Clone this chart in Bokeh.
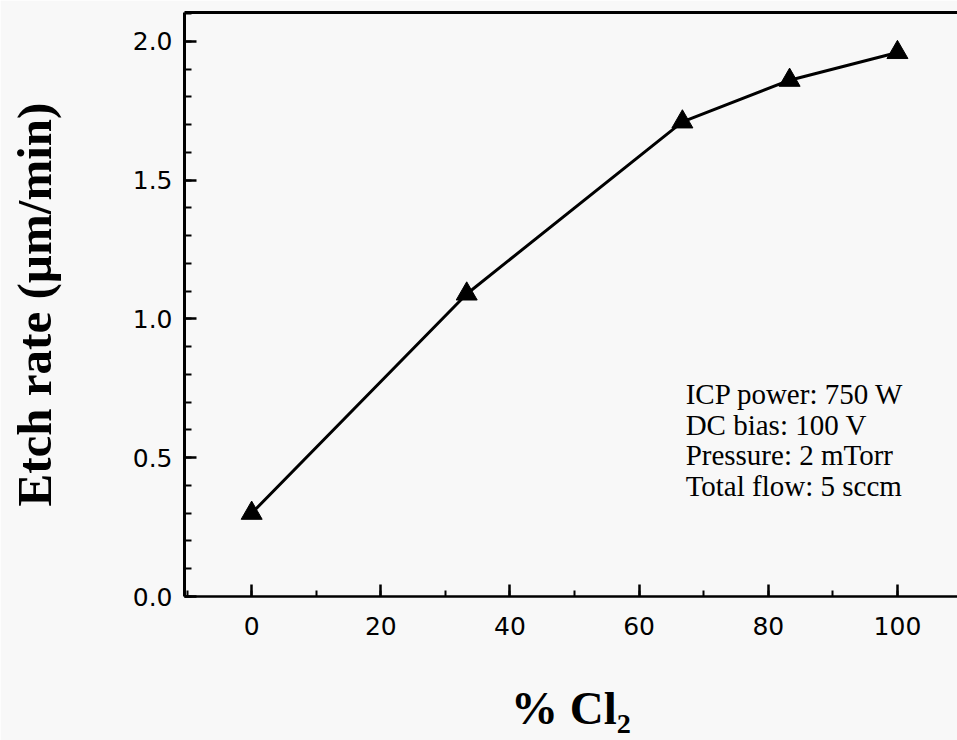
from bokeh.plotting import figure
from bokeh.models import (Range1d, LinearAxis, SingleIntervalTicker, FixedTicker,
                          NumeralTickFormatter, ColumnDataSource)
from bokeh.core.properties import value
from bokeh.embed import file_html
from bokeh.resources import INLINE

# Etch rate versus Cl2 fraction of the gas mix
cl2_percent = [0.0, 33.3, 66.7, 83.3, 100.0]
etch_rate = [0.30, 1.09, 1.71, 1.86, 1.96]

conditions = [
    "ICP power: 750 W",
    "DC bias: 100 V",
    "Pressure: 2 mTorr",
    "Total flow: 5 sccm",
]

BG = "#f8f8f8"
SERIF = "Liberation Serif"
SANS = "DejaVu Sans"

p = figure(width=957, height=740, output_backend="svg", toolbar_location=None,
           x_range=Range1d(-10.4, 109.3), y_range=Range1d(0.0, 2.104),
           min_border_left=184, min_border_right=0, min_border_top=12, min_border_bottom=144,
           background_fill_color=BG, border_fill_color=BG, outline_line_color=None)
p.grid.visible = False

# bottom axis
xa = p.xaxis[0]
xa.ticker = SingleIntervalTicker(interval=20, num_minor_ticks=2)
xa.formatter = NumeralTickFormatter(format="0")
xa.axis_line_width = 2.5
xa.axis_line_color = "black"
xa.major_tick_in, xa.major_tick_out = 12, 0
xa.minor_tick_in, xa.minor_tick_out = 6, 0
xa.major_tick_line_width = 2.5
xa.minor_tick_line_width = 2
xa.major_label_text_font = SANS
xa.major_label_text_font_size = "25px"
xa.major_label_text_color = "black"
xa.major_label_standoff = 20
xa.axis_label = "% Cl\u2082"
xa.axis_label_text_font = SERIF
xa.axis_label_text_font_style = "bold"
xa.axis_label_text_font_size = "47px"
xa.axis_label_text_color = "black"
xa.axis_label_standoff = 44

# left axis
ya = p.yaxis[0]
ya.ticker = SingleIntervalTicker(interval=0.5, num_minor_ticks=5)
ya.formatter = NumeralTickFormatter(format="0.0")
ya.axis_line_width = 3
ya.axis_line_color = "black"
ya.major_tick_in, ya.major_tick_out = 12, 0
ya.minor_tick_in, ya.minor_tick_out = 7, 0
ya.major_tick_line_width = 2.5
ya.minor_tick_line_width = 2
ya.major_label_text_font = SANS
ya.major_label_text_font_size = "25px"
ya.major_label_text_color = "black"
ya.major_label_standoff = 12
ya.axis_label = "Etch rate (\u00b5m/min)"
ya.axis_label_text_font = SERIF
ya.axis_label_text_font_style = "bold"
ya.axis_label_text_font_size = "49px"
ya.axis_label_text_color = "black"
ya.axis_label_standoff = 68

# plain top border line, no ticks
top = LinearAxis(ticker=FixedTicker(ticks=[]),
                 major_tick_in=0, major_tick_out=0, minor_tick_in=0, minor_tick_out=0,
                 major_label_standoff=0, axis_line_width=3, axis_line_color="black")
p.add_layout(top, "above")

src = ColumnDataSource(data=dict(x=cl2_percent, y=etch_rate))
p.line("x", "y", source=src, line_color="black", line_width=3)
p.scatter("x", "y", source=src, marker="triangle", size=21,
          fill_color="black", line_color="black")

# process conditions, one per line
cond_x = 67.2
cond_top = 0.731
cond_step = 0.1115
p.text(x=[cond_x] * len(conditions),
       y=[cond_top - i * cond_step for i in range(len(conditions))],
       text=conditions, text_font=value(SERIF), text_font_size="29px",
       text_color="black", text_baseline="alphabetic", text_align="left")

open("out.html", "w").write(file_html(p, INLINE))
